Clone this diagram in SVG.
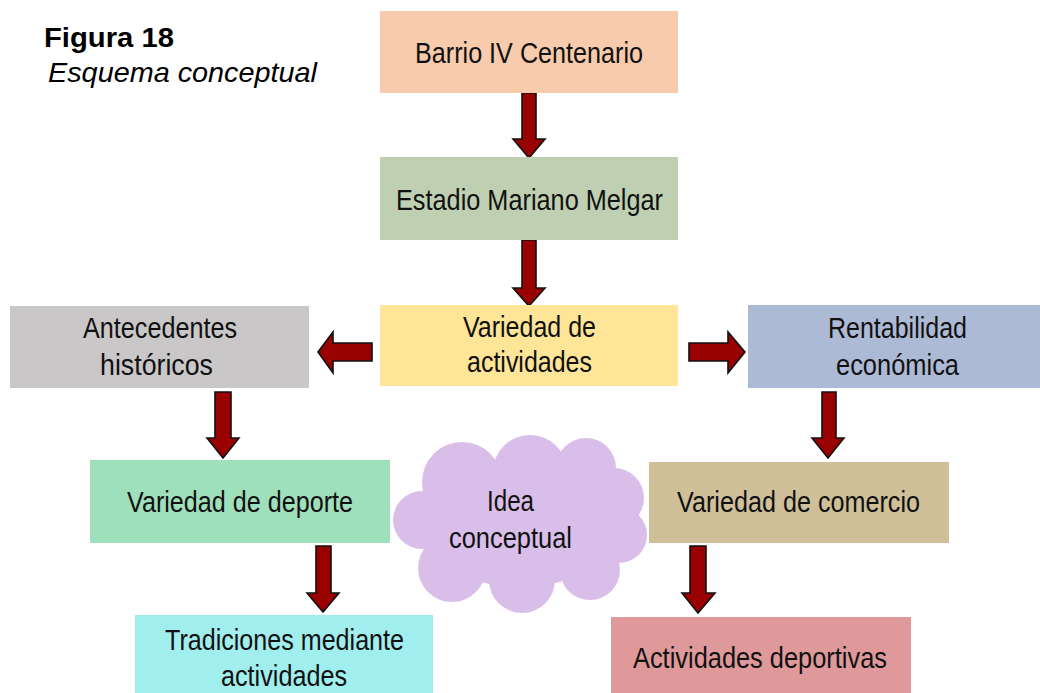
<svg xmlns="http://www.w3.org/2000/svg" width="1040" height="693" viewBox="0 0 1040 693">
<style>
.t{font-family:"Liberation Sans",Arial,sans-serif;font-size:30px;fill:#111;text-anchor:middle}
.arr{fill:#990000;stroke:#111;stroke-width:1.6;stroke-linejoin:miter}
.title{font-family:"Liberation Sans",Arial,sans-serif;fill:#000}
</style>
<rect width="1040" height="693" fill="#fff"/>
<g id="title">
<text class="title" x="44" y="47" font-size="28" font-weight="bold" textLength="130" lengthAdjust="spacingAndGlyphs">Figura 18</text>
<text class="title" x="48" y="82" font-size="28" font-style="italic" textLength="269" lengthAdjust="spacingAndGlyphs">Esquema conceptual</text>
</g>
<g id="connectors">
<polygon class="arr" points="522,93 536,93 536,139 545,139 529,158 513,139 522,139"/>
<polygon class="arr" points="522,240 536,240 536,288 545,288 529,306 513,288 522,288"/>
<polygon class="arr" points="372,343 333,343 333,332 318,352 333,373 333,361 372,361"/>
<polygon class="arr" points="689,343 728,343 728,332 745,352 728,373 728,361 689,361"/>
<polygon class="arr" points="215,392 231,392 231,438 239,438 223,458 207,438 215,438"/>
<polygon class="arr" points="822,392 836,392 836,438 844,438 828,458 812,438 822,438"/>
<polygon class="arr" points="316,546 331,546 331,593 339,593 323,612 307,593 316,593"/>
<polygon class="arr" points="690,546 706,546 706,593 715,593 698,613 682,593 690,593"/>
</g>
<g id="n-barrio">
<rect x="380" y="11" width="298" height="82" fill="#F8CBAD"/>
<text class="t" x="529" y="63" textLength="228" lengthAdjust="spacingAndGlyphs">Barrio IV Centenario</text>
</g>
<g id="n-estadio">
<rect x="380" y="157" width="298" height="83" fill="#BFCFB1"/>
<text class="t" x="529.5" y="210" textLength="267" lengthAdjust="spacingAndGlyphs">Estadio Mariano Melgar</text>
</g>
<g id="n-variedad-actividades">
<rect x="380" y="305" width="298" height="81" fill="#FFE598"/>
<text class="t" x="529.5" y="337" textLength="133" lengthAdjust="spacingAndGlyphs">Variedad de</text>
<text class="t" x="529.5" y="372" textLength="125" lengthAdjust="spacingAndGlyphs">actividades</text>
</g>
<g id="n-antecedentes">
<rect x="10" y="306" width="299" height="82" fill="#C9C7C8"/>
<text class="t" x="160" y="338" textLength="154" lengthAdjust="spacingAndGlyphs">Antecedentes</text>
<text class="t" x="156.5" y="375" textLength="113" lengthAdjust="spacingAndGlyphs">históricos</text>
</g>
<g id="n-rentabilidad">
<rect x="748" y="305" width="292" height="83" fill="#ADBAD5"/>
<text class="t" x="897.5" y="338" textLength="139" lengthAdjust="spacingAndGlyphs">Rentabilidad</text>
<text class="t" x="897.5" y="375" textLength="123" lengthAdjust="spacingAndGlyphs">económica</text>
</g>
<g id="n-deporte">
<rect x="90" y="460" width="300" height="83" fill="#9FE0BC"/>
<text class="t" x="240" y="512" textLength="226" lengthAdjust="spacingAndGlyphs">Variedad de deporte</text>
</g>
<g id="n-comercio">
<rect x="649" y="462" width="300" height="81" fill="#CFC09A"/>
<text class="t" x="798.5" y="512" textLength="243" lengthAdjust="spacingAndGlyphs">Variedad de comercio</text>
</g>
<g id="n-idea" fill="#D9BEEA">
<circle cx="422" cy="520" r="29"/>
<circle cx="462" cy="482" r="40"/>
<circle cx="530" cy="472" r="37"/>
<circle cx="586" cy="468" r="30"/>
<circle cx="614" cy="498" r="30"/>
<circle cx="619" cy="535" r="28"/>
<circle cx="590" cy="570" r="30"/>
<circle cx="522" cy="580" r="33"/>
<circle cx="452" cy="568" r="34"/>
<ellipse cx="520" cy="525" rx="100" ry="62"/>
<text class="t" x="510.5" y="511" textLength="47" lengthAdjust="spacingAndGlyphs">Idea</text>
<text class="t" x="510.5" y="548" textLength="123" lengthAdjust="spacingAndGlyphs">conceptual</text>
</g>
<g id="n-tradiciones">
<rect x="135" y="615" width="298" height="78" fill="#A0EEEE"/>
<text class="t" x="284.5" y="650" textLength="239" lengthAdjust="spacingAndGlyphs">Tradiciones mediante</text>
<text class="t" x="284" y="686" textLength="126" lengthAdjust="spacingAndGlyphs">actividades</text>
</g>
<g id="n-actividades-deportivas">
<rect x="611" y="617" width="300" height="76" fill="#E0999A"/>
<text class="t" x="760" y="668" textLength="254" lengthAdjust="spacingAndGlyphs">Actividades deportivas</text>
</g>
</svg>
